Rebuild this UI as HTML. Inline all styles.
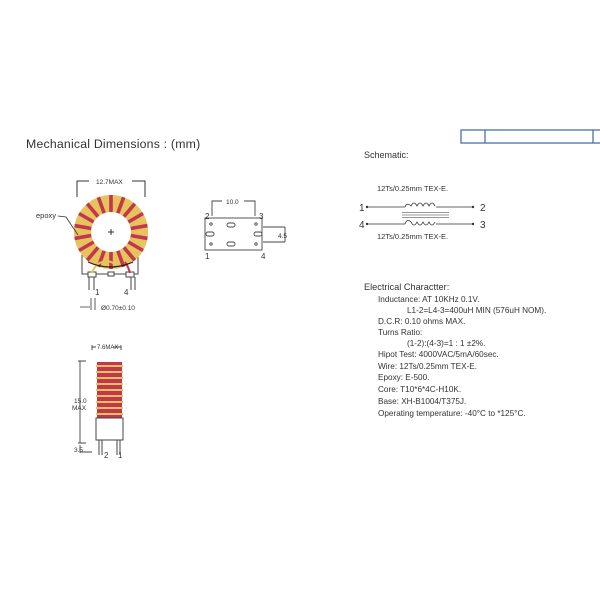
<!DOCTYPE html>
<html><head><style>
body{margin:0;background:#fff;width:600px;height:600px;overflow:hidden}
svg{display:block}
text{font-family:"Liberation Sans",sans-serif;fill:#333}
</style></head><body>
<svg width="600" height="600" viewBox="0 0 600 600">
<defs>
<line id="wr" x1="0" y1="-20" x2="0" y2="-37" stroke="#c2364e" stroke-width="3.6"/>
<line id="wy" x1="0" y1="-20" x2="0" y2="-37" stroke="#e6c35c" stroke-width="3.6"/>
</defs>
<rect x="461" y="130" width="145" height="13" fill="none" stroke="#4a6fa8" stroke-width="1.3"/>
<line x1="485" y1="130" x2="485" y2="143" stroke="#4a6fa8" stroke-width="1.3"/>
<line x1="593" y1="130" x2="593" y2="143" stroke="#4a6fa8" stroke-width="1.3"/>

<text x="26" y="148" font-size="12.3" letter-spacing="0.2">Mechanical  Dimensions  :  (mm)</text>

<g stroke="#333" stroke-width="1" fill="none">
<polyline points="77,197 77,181 89,181"/><polyline points="132,181 145,181 145,197"/>
</g>
<text x="96" y="184" font-size="6.5">12.7MAX</text>
<rect x="82" y="255" width="56" height="19" fill="#fff" stroke="#444"/>
<rect x="88" y="272" width="8" height="5" fill="#fff" stroke="#444"/>
<rect x="108" y="272" width="6" height="4" fill="#fff" stroke="#444"/>
<rect x="126" y="272" width="8" height="5" fill="#fff" stroke="#444"/>
<line x1="89" y1="277" x2="89" y2="290" stroke="#444"/><line x1="94" y1="277" x2="94" y2="290" stroke="#444"/>
<line x1="131" y1="277" x2="131" y2="290" stroke="#444"/><line x1="135" y1="277" x2="135" y2="290" stroke="#444"/>
<g transform="translate(111,232)">
<circle r="37" fill="#e6c35c"/>
<use href="#wr" transform="rotate(0)"/><use href="#wy" transform="rotate(10)"/><use href="#wr" transform="rotate(20)"/><use href="#wy" transform="rotate(30)"/><use href="#wr" transform="rotate(40)"/><use href="#wy" transform="rotate(50)"/><use href="#wr" transform="rotate(60)"/><use href="#wy" transform="rotate(70)"/><use href="#wr" transform="rotate(80)"/><use href="#wy" transform="rotate(90)"/><use href="#wr" transform="rotate(100)"/><use href="#wy" transform="rotate(110)"/><use href="#wr" transform="rotate(120)"/><use href="#wy" transform="rotate(130)"/><use href="#wr" transform="rotate(140)"/><use href="#wy" transform="rotate(150)"/><use href="#wr" transform="rotate(160)"/><use href="#wy" transform="rotate(170)"/><use href="#wr" transform="rotate(180)"/><use href="#wy" transform="rotate(190)"/><use href="#wr" transform="rotate(200)"/><use href="#wy" transform="rotate(210)"/><use href="#wr" transform="rotate(220)"/><use href="#wy" transform="rotate(230)"/><use href="#wr" transform="rotate(240)"/><use href="#wy" transform="rotate(250)"/><use href="#wr" transform="rotate(260)"/><use href="#wy" transform="rotate(270)"/><use href="#wr" transform="rotate(280)"/><use href="#wy" transform="rotate(290)"/><use href="#wr" transform="rotate(300)"/><use href="#wy" transform="rotate(310)"/><use href="#wr" transform="rotate(320)"/><use href="#wy" transform="rotate(330)"/><use href="#wr" transform="rotate(340)"/><use href="#wy" transform="rotate(350)"/>
<circle r="20" fill="#fff"/>
<path d="M-3,0h6M0,-3v6" stroke="#333"/>
</g>
<path d="M92,273 Q96,262 104,262 Q112,260 116,266" stroke="#e6c35c" stroke-width="2" fill="none"/>
<path d="M130,273 Q128,266 125,262" stroke="#c2364e" stroke-width="2" fill="none"/>
<path d="M88,262 Q110,272 133,262" stroke="#222" stroke-width="1.2" fill="none"/>
<text x="36" y="218" font-size="7.5">epoxy</text>
<path d="M58,216 L66,217 L78,235" stroke="#333" fill="none" stroke-width="0.8"/>
<text x="95" y="295" font-size="8">1</text><text x="124" y="295" font-size="8">4</text>
<path d="M80,307h10M91,298v12M95,298v12" stroke="#333" stroke-width="0.8"/>
<text x="101" y="310" font-size="6.5">Ø0.70±0.10</text>

<g stroke="#444" fill="none" stroke-width="0.9">
<polyline points="212,216 212,201 222,201"/><polyline points="244,201 255,201 255,216"/>
<rect x="205" y="218" width="57" height="32" fill="#fff"/>
<rect x="227" y="223" width="8" height="4" rx="2"/><rect x="227" y="242" width="8" height="4" rx="2"/>
<rect x="206" y="232" width="8" height="4" rx="2"/><rect x="254" y="232" width="8" height="4" rx="2"/>
<circle cx="211" cy="224" r="1.2"/><circle cx="256" cy="224" r="1.2"/><circle cx="211" cy="244" r="1.2"/><circle cx="256" cy="244" r="1.2"/>
<polyline points="263,227 285,227"/><polyline points="263,242 285,242"/><line x1="285" y1="227" x2="285" y2="242"/>
</g>
<text x="226" y="204" font-size="6.5">10.0</text>
<text x="205" y="219" font-size="8">2</text><text x="259" y="219" font-size="8">3</text>
<text x="205" y="259" font-size="8">1</text><text x="261" y="259" font-size="8">4</text>
<text x="278" y="238" font-size="6.5">4.5</text>

<g stroke="#444" fill="none" stroke-width="0.9">
<path d="M92,345v5M92,347h4M113,347h8M121,345v5"/>
<path d="M78,361h8M80,361v82M78,443h8"/>
<path d="M80,445v8M80,452h12"/>
</g>
<text x="97" y="349" font-size="6">7.6MAX</text>
<text x="74" y="403" font-size="6.5">15.0</text><text x="72" y="410" font-size="6.5">MAX</text>
<text x="74" y="452" font-size="6.5">3.5</text>
<g>
<rect x="97" y="362" width="25" height="56" fill="#c2364e"/>
<rect x="96" y="365" width="27" height="2" fill="#e6c35c"/><rect x="96" y="371" width="27" height="2" fill="#e6c35c"/>
<rect x="96" y="377" width="27" height="2" fill="#e6c35c"/><rect x="96" y="383" width="27" height="2" fill="#e6c35c"/>
<rect x="96" y="389" width="27" height="2" fill="#e6c35c"/><rect x="96" y="395" width="27" height="2" fill="#e6c35c"/>
<rect x="96" y="401" width="27" height="2" fill="#e6c35c"/><rect x="96" y="407" width="27" height="2" fill="#e6c35c"/>
<rect x="96" y="413" width="27" height="2" fill="#e6c35c"/>
</g>
<rect x="96" y="418" width="27" height="22" fill="#fff" stroke="#444"/>
<path d="M99,440v15M102,440v15M117,440v15M120,440v15" stroke="#444"/>
<text x="104" y="458" font-size="8">2</text><text x="118" y="458" font-size="8">1</text>

<text x="364" y="158" font-size="9">Schematic:</text>
<text x="377" y="191" font-size="7.5">12Ts/0.25mm TEX-E.</text>
<text x="359" y="211" font-size="10">1</text><text x="480" y="211" font-size="10">2</text>
<text x="359" y="228" font-size="10">4</text><text x="480" y="228" font-size="10">3</text>
<text x="377" y="239" font-size="7.5">12Ts/0.25mm TEX-E.</text>
<g stroke="#333" fill="none" stroke-width="0.8">
<path d="M367,207H405 M436,207H473"/>
<path d="M405,207q2,-5 6,-1 q3,-6 6,0 q3,-6 6,0 q3,-6 6,0 q3,-6 6,0"/>
<path d="M367,224H405 M436,224H473"/>
<path d="M405,224q2,-6 6,-2 q3,6 6,0 q3,6 6,0 q3,6 6,0 q3,6 6,0"/>
<path d="M402,212.5H449 M402,215H449 M402,217.5H449" stroke-width="0.6"/>
</g>
<circle cx="367" cy="207" r="1.2" fill="#333"/><circle cx="473" cy="207" r="1.2" fill="#333"/>
<circle cx="367" cy="224" r="1.2" fill="#333"/><circle cx="473" cy="224" r="1.2" fill="#333"/>

<g font-size="8.2">
<text x="364" y="290" font-size="9.2">Electrical Charactter:</text>
<text x="378" y="302">Inductance:  AT 10KHz 0.1V.</text>
<text x="407" y="313">L1-2=L4-3=400uH MIN (576uH NOM).</text>
<text x="378" y="324">D.C.R:   0.10 ohms  MAX.</text>
<text x="378" y="335">Turns Ratio:</text>
<text x="407" y="346">(1-2):(4-3)=1 : 1 ±2%.</text>
<text x="378" y="357">Hipot Test: 4000VAC/5mA/60sec.</text>
<text x="378" y="369">Wire: 12Ts/0.25mm TEX-E.</text>
<text x="378" y="380">Epoxy: E-500.</text>
<text x="378" y="392">Core:  T10*6*4C-H10K.</text>
<text x="378" y="404">Base: XH-B1004/T375J.</text>
<text x="378" y="416">Operating temperature: -40°C to *125°C.</text>
</g>
</svg>
</body></html>
